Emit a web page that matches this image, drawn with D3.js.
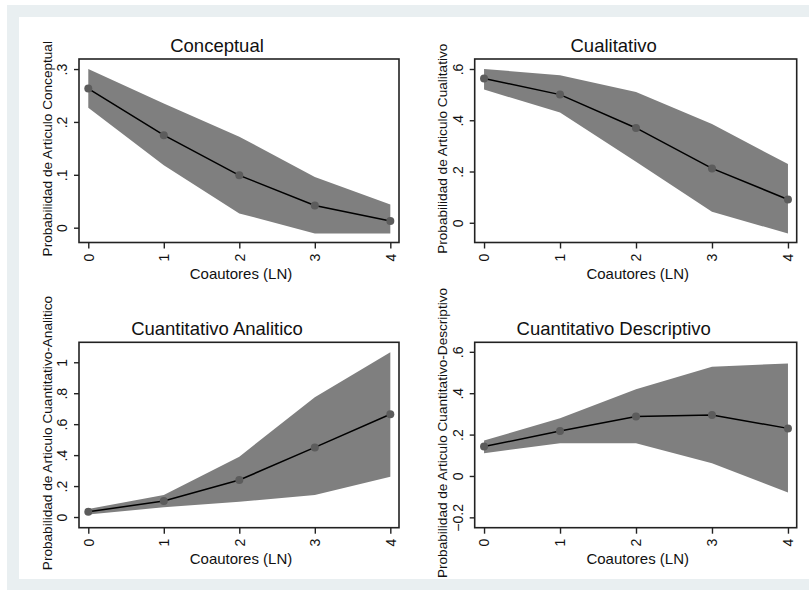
<!DOCTYPE html>
<meta charset="utf-8">
<style>
  body { margin: 0; background: #fff; }
  text { font-family: "Liberation Sans", Arial, sans-serif; fill: #111; }
  .band { fill: #7f7f7f; }
  .fit { fill: none; stroke: #000; stroke-width: 1.5px; }
  .dot { fill: #5c5c5c; }
</style>
<svg width="809" height="592"></svg>
<script src="https://d3js.org/d3.v7.min.js"></script>
<script>
// ====================================================================
// values
const coautores = [0, 1, 2, 3, 4]

const titles = ["Conceptual", "Cualitativo", "Cuantitativo Analitico", "Cuantitativo Descriptivo"]
const ylabels = [
  "Probabilidad de Articulo Conceptual",
  "Probabilidad de Articulo Cualitativo",
  "Probabilidad de Articulo Cuantitativo-Analitico",
  "Probabilidad de Articulo Cuantitativo-Descriptivo"
]

const conceptual      = [0.263, 0.175, 0.099, 0.042, 0.0125]
const conceptualLo    = [0.227, 0.118, 0.027, -0.011, -0.011]
const conceptualHi    = [0.300, 0.235, 0.172, 0.096, 0.044]

const cualitativo     = [0.563, 0.500, 0.370, 0.212, 0.091]
const cualitativoLo   = [0.520, 0.430, 0.238, 0.043, -0.042]
const cualitativoHi   = [0.600, 0.576, 0.510, 0.385, 0.229]

const analitico       = [0.034, 0.103, 0.239, 0.450, 0.664]
const analiticoLo     = [0.017, 0.063, 0.099, 0.142, 0.260]
const analiticoHi     = [0.052, 0.142, 0.390, 0.774, 1.065]

const descriptivo     = [0.142, 0.217, 0.287, 0.295, 0.230]
const descriptivoLo   = [0.110, 0.158, 0.158, 0.061, -0.080]
const descriptivoHi   = [0.171, 0.279, 0.419, 0.528, 0.544]

const yTicks = [
  [0, 0.1, 0.2, 0.3],
  [0, 0.2, 0.4, 0.6],
  [0, 0.2, 0.4, 0.6, 0.8, 1],
  [-0.2, 0, 0.2, 0.4, 0.6]
]
const yDomains = [[-0.028, 0.319], [-0.077, 0.639], [-0.069, 1.129], [-0.25, 0.646]]

const series = [
  [conceptual, conceptualLo, conceptualHi],
  [cualitativo, cualitativoLo, cualitativoHi],
  [analitico, analiticoLo, analiticoHi],
  [descriptivo, descriptivoLo, descriptivoHi]
]

// plot boxes (left, top, right, bottom)
const boxes = [
  [79, 59, 399, 242.5],
  [474.7, 59, 796.7, 242.5],
  [79, 342.3, 399, 527.7],
  [474.7, 342.3, 796.7, 527.7]
]

// stata style numbers: .3, 0, 1, -.2
const fmt = (d) => {
  if (d === 0) return "0"
  let s = d3.format(".1f")(d).replace(/\.0$/, "")
  return s.replace(/^(-?)0\./, "$1.")
}

// ====================================================================
const svg = d3.select("svg")

// light frame round the graph
svg.append("rect").attr("x", 7).attr("y", 5).attr("width", 802).attr("height", 585).attr("fill", "#e9eff1")
svg.append("rect").attr("x", 19).attr("y", 17).attr("width", 790).attr("height", 562).attr("fill", "#fff")

boxes.forEach((b, i) => {
  const [x0, y0, x1, y1] = b
  const x = d3.scaleLinear().domain([-0.123, 4.115]).range([x0, x1])
  const y = d3.scaleLinear().domain(yDomains[i]).range([y1, y0])
  const [mid, lo, hi] = series[i]
  const g = svg.append("g")

  const pts = coautores.map((c, k) => ({c: c, m: mid[k], lo: lo[k], hi: hi[k]}))

  g.append("path")
    .datum(pts)
    .attr("class", "band")
    .attr("d", d3.area().x((d) => x(d.c)).y0((d) => y(d.lo)).y1((d) => y(d.hi)))

  g.append("path")
    .datum(pts)
    .attr("class", "fit")
    .attr("d", d3.line().x((d) => x(d.c)).y((d) => y(d.m)))

  g.selectAll("circle")
    .data(pts)
    .enter()
    .append("circle")
    .attr("class", "dot")
    .attr("cx", (d) => x(d.c))
    .attr("cy", (d) => y(d.m))
    .attr("r", 4)

  // box
  g.append("rect")
    .attr("x", x0).attr("y", y0)
    .attr("width", x1 - x0).attr("height", y1 - y0)
    .attr("fill", "none").attr("stroke", "#222").attr("stroke-width", 1.6)

  // x axis
  const xa = g.append("g")
    .attr("transform", `translate(0,${y1})`)
    .call(d3.axisBottom(x).tickValues(coautores).tickSize(6).tickPadding(0).tickFormat(""))
  xa.select(".domain").remove()
  xa.selectAll("line").attr("stroke", "#222").attr("stroke-width", 1.4)
  xa.selectAll(".tick").append("text")
    .attr("transform", "translate(0,15) rotate(-90)")
    .attr("text-anchor", "middle")
    .attr("dy", "0.35em")
    .attr("font-size", 14)
    .text((d) => fmt(d))

  // y axis
  const ya = g.append("g")
    .attr("transform", `translate(${x0},0)`)
    .call(d3.axisLeft(y).tickValues(yTicks[i]).tickSize(5).tickFormat(""))
  ya.select(".domain").remove()
  ya.selectAll("line").attr("stroke", "#222").attr("stroke-width", 1.4)
  ya.selectAll(".tick").append("text")
    .attr("transform", "translate(-17,0) rotate(-90)")
    .attr("text-anchor", "middle")
    .attr("dy", "0.35em")
    .attr("font-size", 14)
    .text((d) => fmt(d))

  // labels
  g.append("text")
    .attr("x", (x0 + x1) / 2 + 2)
    .attr("y", y1 + 36)
    .attr("text-anchor", "middle")
    .attr("font-size", 15)
    .text("Coautores (LN)")

  g.append("text")
    .attr("transform", `translate(${x0 - 32},${(y0 + y1) / 2 - 2}) rotate(-90)`)
    .attr("text-anchor", "middle")
    .attr("dy", "0.35em")
    .attr("font-size", 13.6)
    .text(ylabels[i])

  g.append("text")
    .attr("x", (x0 + x1) / 2 - 22)
    .attr("y", y0 - 7)
    .attr("text-anchor", "middle")
    .attr("font-size", 18.5)
    .text(titles[i])
})
</script>
